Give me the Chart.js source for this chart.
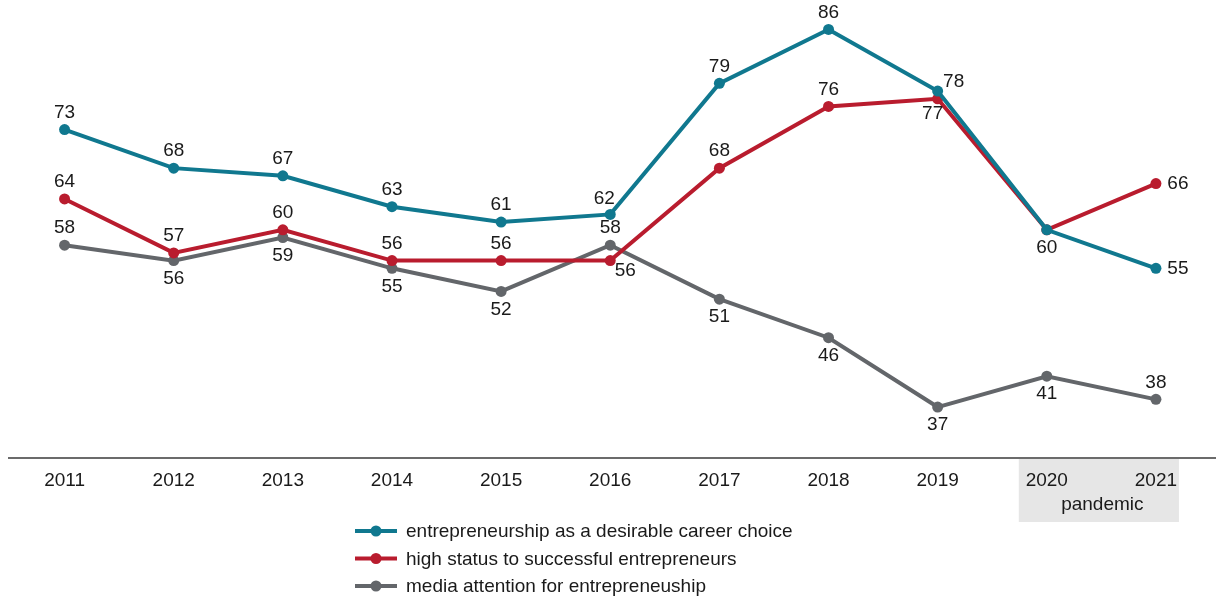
<!DOCTYPE html>
<html>
<head>
<meta charset="utf-8">
<script src="https://cdn.jsdelivr.net/npm/chart.js@4/dist/chart.umd.min.js"></script>
<style>
  html, body { margin: 0; padding: 0; background: #fff; }
  #wrap { width: 1216px; height: 601px; }
</style>
</head>
<body>
<div id="wrap"><canvas id="c" width="1216" height="601"></canvas></div>
<script>
// Years on the horizontal axis
const years = ['2011', '2012', '2013', '2014', '2015', '2016', '2017', '2018', '2019', '2020', '2021'];

// Share of respondents (%) per year
const careerChoice = [73, 68, 67, 63, 61, 62, 79, 86, 78, 60, 55];
const highStatus   = [64, 57, 60, 56, 56, 56, 68, 76, 77, 60, 66];
const mediaAttention = [58, 56, 59, 55, 52, 58, 51, 46, 37, 41, 38];

const seriesNames = [
  'entrepreneurship as a desirable career choice',
  'high status to successful entrepreneurs',
  'media attention for entrepreneuship'
];

// Years falling in the highlighted period
const pandemicYears = ['2020', '2021'];
const pandemicLabel = 'pandemic';

// Where each value label sits relative to its point
const careerPlace = ['a', 'a', 'a', 'a', 'a', 'al', 'a', 'a', 'ar', 'b', 'r'];
const statusPlace = ['a', 'a', 'a', 'a', 'a', 'br', 'a', 'a', 'bl', '', 'r'];
const mediaPlace  = ['a', 'b', 'b', 'b', 'b', 'a', 'b', 'b', 'b', 'b', 'a'];

const FONT = '"Liberation Sans", Arial, sans-serif';
const FONT_SIZE = 19;
const TEXT = '#1a1a1a';
const BLUE = '#10788f';
const RED = '#b91c2e';
const GREY = '#63666a';

const offsets = {
  a:  [0, -17],
  b:  [0, 18],
  r:  [22, 0],
  ar: [16, -9],
  al: [-6, -16],
  bl: [-5, 15],
  br: [15, 10]
};

const valueLabels = {
  id: 'valueLabels',
  afterDatasetsDraw(chart) {
    const ctx = chart.ctx;
    ctx.save();
    ctx.font = FONT_SIZE + 'px ' + FONT;
    ctx.fillStyle = TEXT;
    ctx.textAlign = 'center';
    ctx.textBaseline = 'middle';
    chart.data.datasets.forEach((ds, i) => {
      const meta = chart.getDatasetMeta(i);
      meta.data.forEach((pt, j) => {
        const o = offsets[ds.labelPlace[j]];
        if (!o) return;
        ctx.fillText(String(ds.data[j]), pt.x + o[0], pt.y + o[1]);
      });
    });
    ctx.restore();
  }
};

const decorations = {
  id: 'decorations',
  beforeDraw(chart) {
    const ctx = chart.ctx;
    const x = chart.scales.x;
    const x0 = x.getPixelForValue(years.indexOf(pandemicYears[0])) - 28;
    const x1 = x.getPixelForValue(years.indexOf(pandemicYears[pandemicYears.length - 1])) + 23;
    ctx.save();
    ctx.fillStyle = '#e6e6e6';
    ctx.fillRect(x0, chart.chartArea.bottom - 2, x1 - x0, 63);
    ctx.restore();
  },
  afterDraw(chart) {
    const ctx = chart.ctx;
    const area = chart.chartArea;
    const x = chart.scales.x;
    ctx.save();
    // baseline
    ctx.strokeStyle = '#3a3a3a';
    ctx.lineWidth = 1.5;
    ctx.beginPath();
    ctx.moveTo(8, area.bottom - 3);
    ctx.lineTo(chart.width, area.bottom - 3);
    ctx.stroke();
    // period caption
    const xa = x.getPixelForValue(years.indexOf(pandemicYears[0]));
    const xb = x.getPixelForValue(years.indexOf(pandemicYears[pandemicYears.length - 1]));
    ctx.font = FONT_SIZE + 'px ' + FONT;
    ctx.fillStyle = TEXT;
    ctx.textAlign = 'center';
    ctx.textBaseline = 'middle';
    ctx.fillText(pandemicLabel, (xa + xb) / 2 + 1, 505);
    // legend
    const colors = chart.data.datasets.map(d => d.borderColor);
    ctx.textAlign = 'left';
    chart.data.datasets.forEach((ds, i) => {
      const y = 531 + i * 27.5;
      ctx.strokeStyle = colors[i];
      ctx.lineWidth = 4;
      ctx.beginPath();
      ctx.moveTo(355, y);
      ctx.lineTo(397, y);
      ctx.stroke();
      ctx.fillStyle = colors[i];
      ctx.beginPath();
      ctx.arc(376, y, 5.5, 0, Math.PI * 2);
      ctx.fill();
      ctx.fillStyle = TEXT;
      ctx.fillText(ds.label, 406, y + 1);
    });
    ctx.restore();
  }
};

function series(label, data, color, place) {
  return {
    label, data,
    labelPlace: place,
    borderColor: color,
    backgroundColor: color,
    borderWidth: 4,
    pointRadius: 5.5,
    pointHoverRadius: 5.5,
    pointBorderWidth: 0,
    tension: 0,
    clip: false
  };
}

new Chart(document.getElementById('c'), {
  type: 'line',
  data: {
    labels: years,
    datasets: [
      series(seriesNames[0], careerChoice, BLUE, careerPlace),
      series(seriesNames[1], highStatus, RED, statusPlace),
      series(seriesNames[2], mediaAttention, GREY, mediaPlace)
    ]
  },
  options: {
    responsive: false,
    devicePixelRatio: 1,
    animation: false,
    events: [],
    layout: { padding: { left: 10, right: 5, top: 14, bottom: 0 } },
    plugins: { legend: { display: false }, tooltip: { enabled: false } },
    scales: {
      x: {
        offset: true,
        grid: { display: false, drawTicks: false },
        border: { display: false },
        ticks: { color: TEXT, font: { family: FONT, size: FONT_SIZE }, padding: 8, maxRotation: 0, autoSkip: false },
        afterFit(scale) { scale.height = 140; }
      },
      y: {
        display: false,
        min: 30,
        max: 88
      }
    }
  },
  plugins: [decorations, valueLabels]
});
</script>
</body>
</html>
